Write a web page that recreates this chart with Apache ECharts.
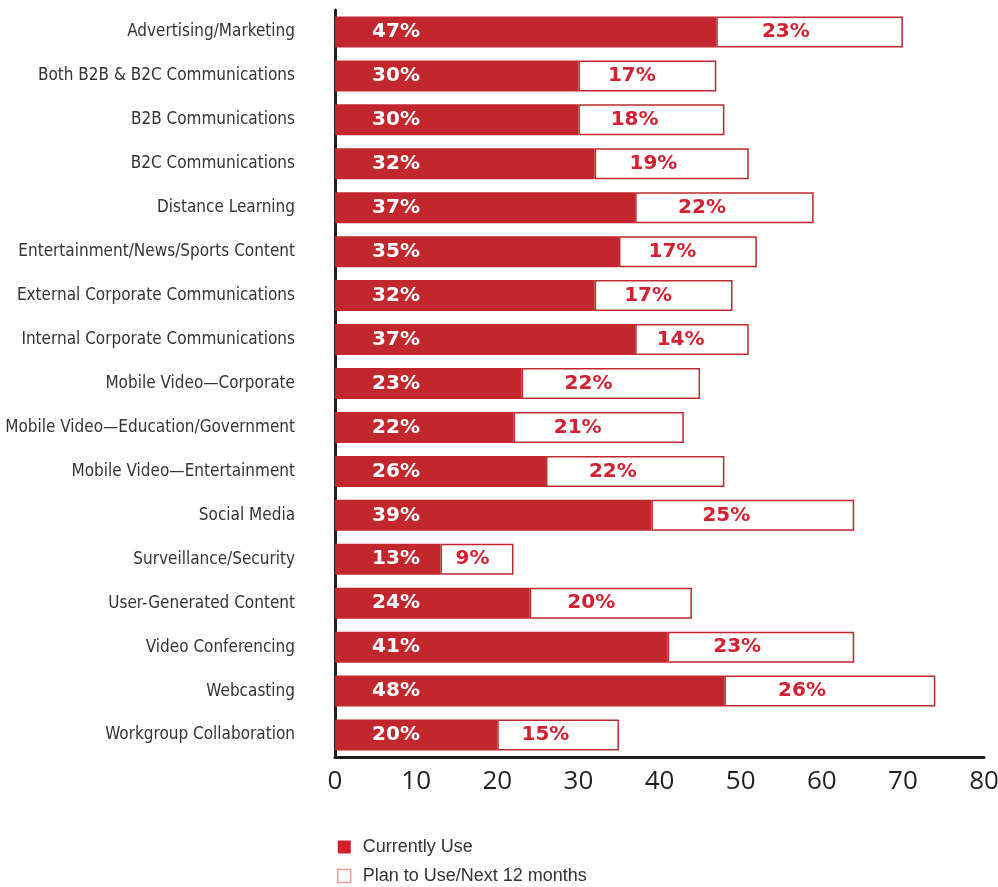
<!DOCTYPE html>
<html>
<head>
<meta charset="utf-8">
<script src="https://cdn.jsdelivr.net/npm/echarts@6/dist/echarts.min.js"></script>
<style>html,body{margin:0;padding:0;background:#fff}#c{width:998px;height:887px}</style>
</head>
<body>
<div id="c"></div>
<script>
const categories = [
  "Advertising/Marketing",
  "Both B2B & B2C Communications",
  "B2B Communications",
  "B2C Communications",
  "Distance Learning",
  "Entertainment/News/Sports Content",
  "External Corporate Communications",
  "Internal Corporate Communications",
  "Mobile Video\u2014Corporate",
  "Mobile Video\u2014Education/Government",
  "Mobile Video\u2014Entertainment",
  "Social Media",
  "Surveillance/Security",
  "User-Generated Content",
  "Video Conferencing",
  "Webcasting",
  "Workgroup Collaboration"
];
const currentlyUse = [47, 30, 30, 32, 37, 35, 32, 37, 23, 22, 26, 39, 13, 24, 41, 48, 20];
const planToUse = [23, 17, 18, 19, 22, 17, 17, 14, 22, 21, 22, 25, 9, 20, 23, 26, 15];
const xTicks = [0, 10, 20, 30, 40, 50, 60, 70, 80];
const seriesNames = ["Currently Use", "Plan to Use/Next 12 months"];

const chart = echarts.init(document.getElementById('c'));
const labelFont = {fontFamily: 'DejaVu Sans', fontWeight: 'bold', fontSize: 20};
chart.setOption({
  animation: false,
  grid: {left: 335, right: 14, top: 10, bottom: 130, outerBoundsMode: 'none', containLabel: false},
  xAxis: {
    type: 'value', min: xTicks[0], max: xTicks[xTicks.length - 1], interval: 10,
    axisLine: {show: true, lineStyle: {color: '#231f20', width: 3}},
    axisTick: {show: false},
    splitLine: {show: false},
    axisLabel: {color: '#231f20', fontSize: 26, fontFamily: 'Open Sans', margin: 12}
  },
  yAxis: {
    type: 'category', data: categories, inverse: true,
    axisLine: {show: true, lineStyle: {color: '#231f20', width: 3}},
    axisTick: {show: false},
    axisLabel: {color: '#333', fontSize: 17, fontFamily: 'DejaVu Sans Condensed', margin: 40}
  },
  legend: {
    orient: 'vertical', left: 337, top: 838, padding: 0, itemWidth: 13, itemHeight: 13, itemGap: 11,
    textStyle: {color: '#333', fontSize: 18, fontFamily: 'Liberation Sans', padding: [0, 0, 0, 7]},
    data: [
      {name: seriesNames[0], icon: 'rect', itemStyle: {color: '#d51f2b', borderWidth: 0}},
      {name: seriesNames[1], icon: 'rect', itemStyle: {color: '#fff', borderColor: '#f0a090', borderWidth: 1.5}}
    ]
  },
  series: [
    {
      name: seriesNames[0], type: 'bar', stack: 'a', data: currentlyUse, barWidth: 31,
      itemStyle: {color: '#c1272d'},
      label: Object.assign({show: true, position: [61, '50%'], align: 'center', verticalAlign: 'middle', color: '#fff', formatter: '{c}%'}, labelFont)
    },
    {
      name: seriesNames[1], type: 'bar', stack: 'a', data: planToUse, barWidth: 31,
      itemStyle: {color: '#fff', borderColor: '#c1272d', borderWidth: 1.5},
      label: Object.assign({show: true, position: ['33%', '50%'], offset: [8, 0], align: 'center', verticalAlign: 'middle', color: '#d42030', formatter: '{c}%'}, labelFont)
    }
  ]
});
</script>
</body>
</html>
